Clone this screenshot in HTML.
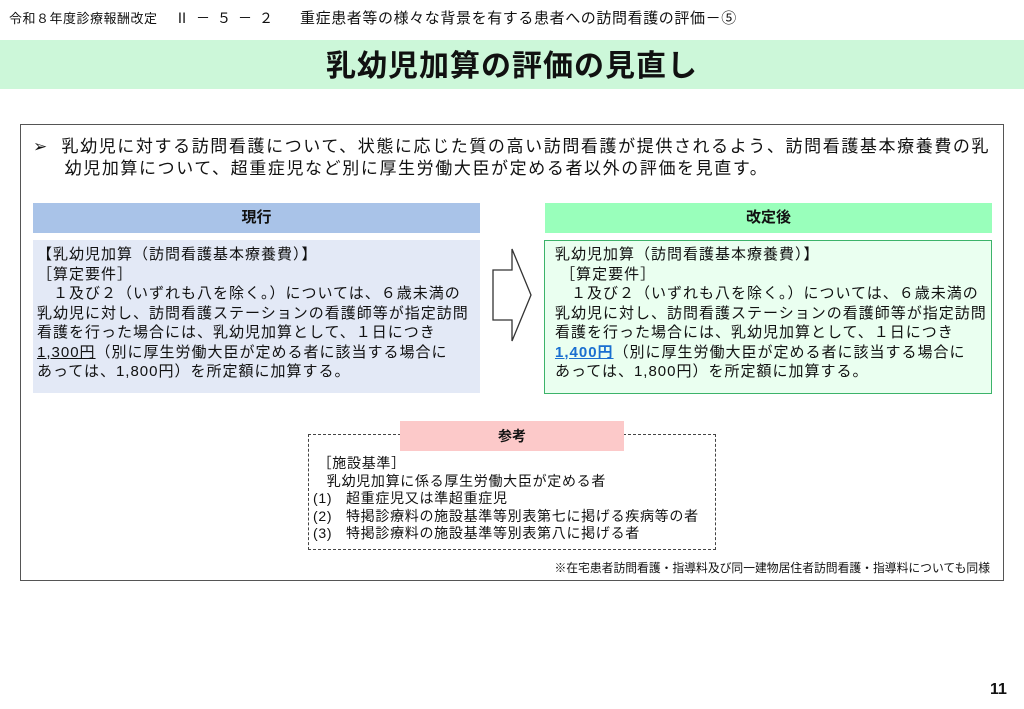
<!DOCTYPE html>
<html><head><meta charset="utf-8"><style>
body{margin:0;width:1024px;height:709px;background:#fff;position:relative;overflow:hidden;font-family:"Liberation Sans","Noto Sans CJK JP",sans-serif;color:#111}
.a{position:absolute;white-space:nowrap}
.bt{font-size:15px;letter-spacing:1.0px;line-height:19.5px}
</style></head><body>
<div class="a" style="left:9px;top:8px;font-size:13px;letter-spacing:0.5px;">令和８年度診療報酬改定</div>
<div class="a" style="left:175px;top:8px;font-size:14px;letter-spacing:7px;">Ⅱ－５－２</div>
<div class="a" style="left:300px;top:7px;font-size:15px;letter-spacing:0.6px;">重症患者等の様々な背景を有する患者への訪問看護の評価－⑤</div>
<div class="a" style="left:0;top:40px;width:1024px;height:49px;background:#ccf7d9"></div>
<div class="a" style="left:0;top:41px;width:1024px;text-align:center;font-size:30px;font-weight:bold;letter-spacing:1px;">乳幼児加算の評価の見直し</div>

<div class="a" style="left:20px;top:124px;width:982px;height:455px;border:1.5px solid #555"></div>
<div class="a" style="left:33px;top:136px;font-size:17px;letter-spacing:1.6px;line-height:22px;">➢&nbsp;&nbsp;乳幼児に対する訪問看護について、状態に応じた質の高い訪問看護が提供されるよう、訪問看護基本療養費の乳<br>&nbsp;&nbsp;&nbsp;&nbsp;&nbsp;幼児加算について、超重症児など別に厚生労働大臣が定める者以外の評価を見直す。</div>

<div class="a" style="left:33px;top:203px;width:447px;height:30px;background:#a9c3e8;text-align:center;font-weight:bold;font-size:15px;line-height:30px;">現行</div>
<div class="a" style="left:545px;top:203px;width:447px;height:30px;background:#99ffbb;text-align:center;font-weight:bold;font-size:15px;line-height:30px;">改定後</div>

<div class="a" style="left:33px;top:240px;width:447px;height:153px;background:#e3e9f6"></div>
<div class="a bt" style="left:37px;top:245px;">【乳幼児加算（訪問看護基本療養費）】<br>［算定要件］<br>　１及び２（いずれも八を除く。）については、６歳未満の<br>乳幼児に対し、訪問看護ステーションの看護師等が指定訪問<br>看護を行った場合には、乳幼児加算として、１日につき<br><u>1,300円</u>（別に厚生労働大臣が定める者に該当する場合に<br>あっては、1,800円）を所定額に加算する。</div>

<div class="a" style="left:544px;top:240px;width:446px;height:152px;background:#eafff0;border:1.5px solid #3cb36a"></div>
<div class="a bt" style="left:555px;top:245px;">乳幼児加算（訪問看護基本療養費）】<br>&nbsp;［算定要件］<br>　１及び２（いずれも八を除く。）については、６歳未満の<br>乳幼児に対し、訪問看護ステーションの看護師等が指定訪問<br>看護を行った場合には、乳幼児加算として、１日につき<br><u style="color:#1a6fd0;font-weight:bold">1,400円</u>（別に厚生労働大臣が定める者に該当する場合に<br>あっては、1,800円）を所定額に加算する。</div>

<svg class="a" style="left:490px;top:245px" width="45" height="100"><polygon points="3,25 22,25 22,4 41,50 22,96 22,75 3,75" fill="#fff" stroke="#333" stroke-width="1.3"/></svg>

<div class="a" style="left:308px;top:434px;width:406px;height:114px;border:1.3px dashed #444"></div>
<div class="a" style="left:400px;top:421px;width:224px;height:30px;background:#fcc9c9;text-align:center;font-weight:bold;font-size:14px;line-height:30px;">参考</div>
<div class="a" style="left:313px;top:455px;font-size:14px;letter-spacing:0.7px;line-height:17.5px;">&nbsp;［施設基準］<br>&nbsp;&nbsp;&nbsp;乳幼児加算に係る厚生労働大臣が定める者<br>(1)&nbsp;&nbsp;&nbsp;超重症児又は準超重症児<br>(2)&nbsp;&nbsp;&nbsp;特掲診療料の施設基準等別表第七に掲げる疾病等の者<br>(3)&nbsp;&nbsp;&nbsp;特掲診療料の施設基準等別表第八に掲げる者</div>
<div class="a" style="right:34px;top:559px;font-size:11.8px;">※在宅患者訪問看護・指導料及び同一建物居住者訪問看護・指導料についても同様</div>
<div class="a" style="left:990px;top:681px;font-size:16px;font-weight:bold;">11</div>
</body></html>
